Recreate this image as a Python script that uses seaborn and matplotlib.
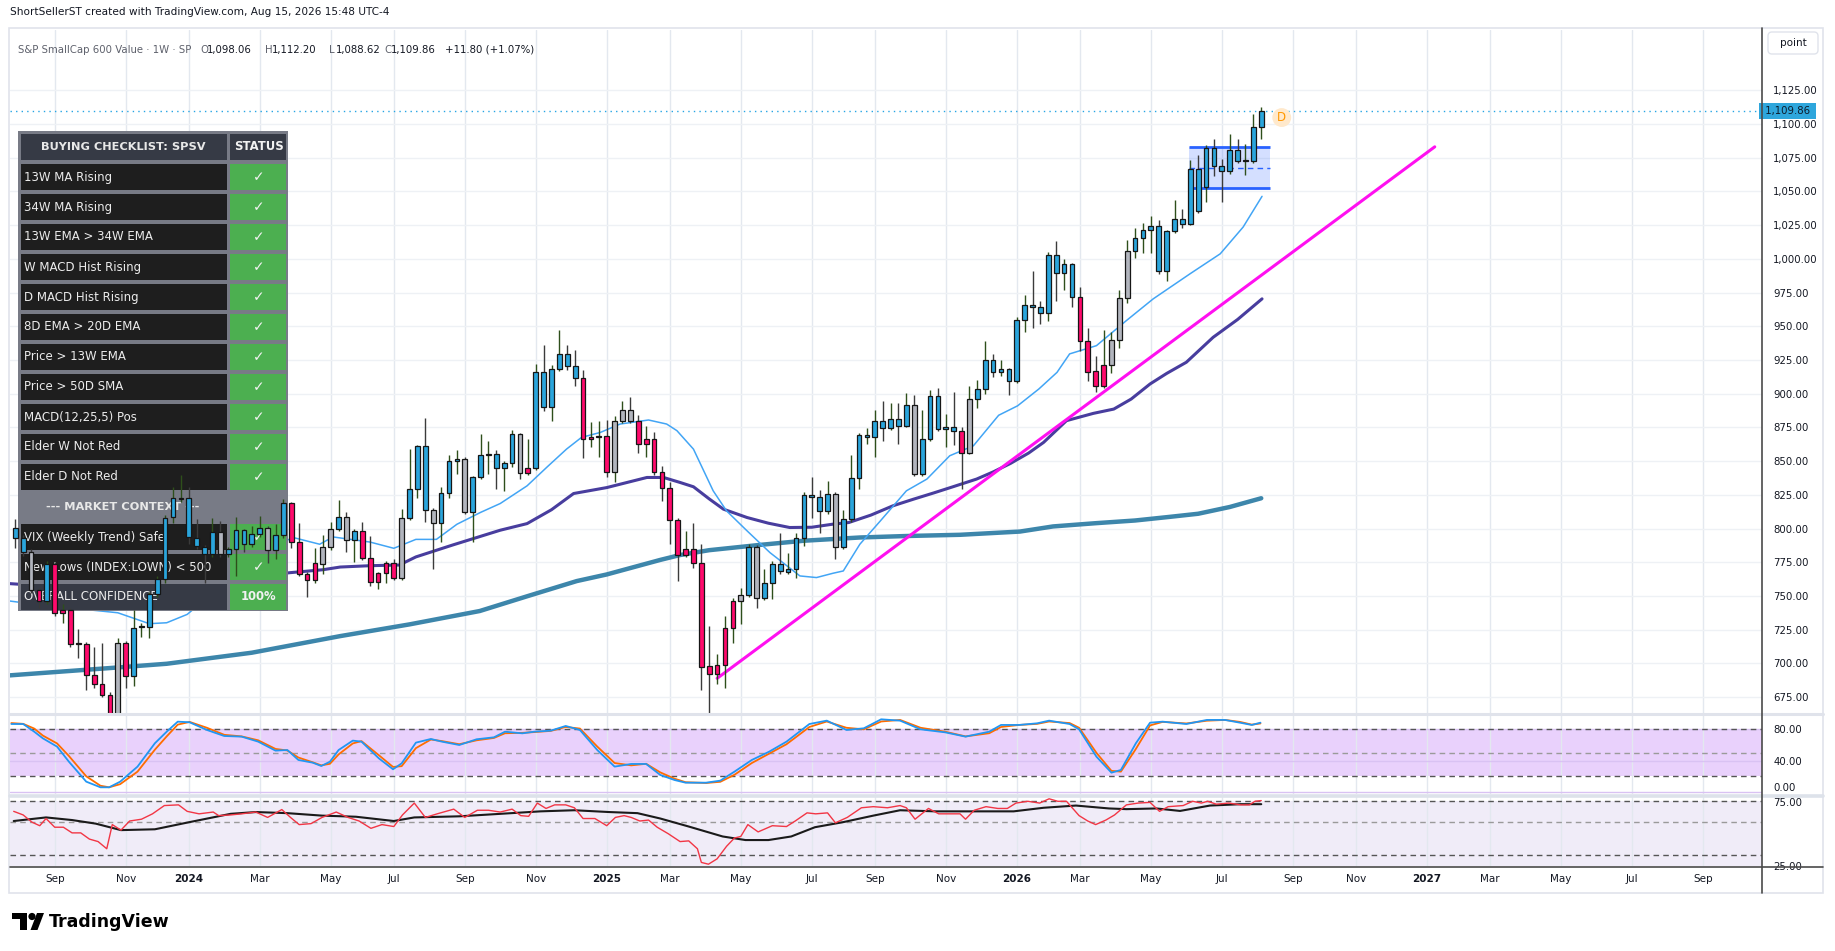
import numpy as np
import pandas as pd
import seaborn as sns
import matplotlib.pyplot as plt
import matplotlib.transforms as mtransforms
from matplotlib.patches import Rectangle, FancyBboxPatch, Circle, Polygon
from matplotlib.ticker import FuncFormatter

W, H = 1835, 951
ANCHOR = pd.Timestamp("2025-01-06")   # week offset 0
FIRST_BAR = "2023-07-31"

# ---- weekly candles (S&P SmallCap 600 Value, 1W) ----
impulse = ("bbgrbrrrrr" "rrrgrbbbbb" "bbbbbbgbbb" "bbgbbrrrrg" "gbgbrrrrrg"
           "bbbgbbbgbb" "bbbbgrbbbb" "bbrrrrgggr" "rrrrrrrrrr" "rrgbgbbbbb"
           "bbbbgbbbbb" "bbbbgbbbbb" "rgbbbbbbbb" "bbbbbrrrrg" "ggbbbbbbbb"
           "bbbbbbbbb")
opens = [800.2, 792.8, 782.9, 754.2, 746.3, 773.5, 737.4, 739.4, 714.8, 714.8,
         691.8, 684.9, 677.0, 660.0, 715.4, 690.6, 726.8, 727.0, 751.2, 762.4,
         808.7, 822.2, 822.5, 793.3, 786.4, 781.0, 797.8, 781.0, 784.7, 798.8,
         788.4, 796.3, 800.2, 784.0, 795.0, 818.8, 790.1, 766.6, 761.6, 774.0,
         786.0, 799.5, 808.9, 791.3, 798.0, 778.0, 760.4, 766.8, 774.8, 763.1,
         807.7, 829.2, 861.4, 813.6, 804.5, 826.7, 850.0, 851.5, 812.6, 838.4,
         854.5, 855.2, 844.8, 848.5, 870.1, 841.1, 844.8, 916.3, 889.9, 918.3,
         929.5, 920.8, 911.6, 866.1, 868.0, 868.8, 841.6, 880.0, 887.9, 880.0,
         862.6, 866.3, 841.6, 830.0, 806.2, 780.5, 784.7, 774.3, 698.0, 691.9,
         698.6, 726.5, 746.3, 750.5, 786.4, 748.3, 759.5, 774.1, 768.1, 769.8,
         792.9, 824.8, 823.6, 812.7, 825.5, 786.4, 807.0, 837.4, 868.1, 868.1,
         879.8, 874.5, 881.2, 876.3, 891.6, 840.4, 866.4, 898.3, 873.8, 875.0,
         872.1, 856.0, 896.1, 903.5, 925.0, 916.3, 918.3, 909.2, 954.7, 965.8,
         964.1, 959.7, 1002.5, 989.4, 995.8, 972.0, 938.9, 916.6, 905.4, 921.3,
         939.9, 971.0, 1005.7, 1015.3, 1021.5, 1024.5, 990.8, 1020.5, 1029.7, 1026.0,
         1066.8, 1053.2, 1082.4, 1068.8, 1064.9, 1080.9, 1072.3, 1072.8, 1098.06]
highs = [806.9, 795.0, 785.0, 756.0, 776.0, 775.0, 743.8, 741.0, 725.3, 716.0,
         712.0, 715.0, 679.0, 719.0, 717.0, 740.0, 730.0, 753.0, 764.9, 810.0,
         830.5, 840.0, 830.5, 806.9, 788.0, 807.7, 805.7, 786.0, 808.7, 800.0,
         802.0, 809.4, 802.0, 803.2, 822.0, 820.0, 804.5, 768.0, 785.4, 795.0,
         804.9, 821.0, 812.4, 800.0, 804.9, 794.3, 768.0, 776.0, 777.2, 814.4,
         858.9, 862.0, 881.9, 815.0, 830.9, 854.5, 858.2, 853.0, 839.0, 870.1,
         865.1, 858.2, 850.0, 873.0, 871.0, 866.3, 922.0, 936.4, 921.5, 947.5,
         936.4, 932.4, 917.6, 879.2, 880.0, 880.5, 883.7, 894.3, 897.8, 884.4,
         876.2, 871.8, 846.5, 834.2, 808.0, 798.3, 803.8, 788.4, 727.8, 706.7,
         735.2, 748.8, 756.2, 788.4, 788.0, 770.3, 776.0, 797.1, 782.2, 797.1,
         827.3, 838.4, 828.5, 835.4, 827.0, 813.7, 854.8, 870.6, 874.5, 887.9,
         894.4, 893.4, 893.4, 900.8, 899.3, 887.9, 902.8, 904.3, 885.0, 901.5,
         875.5, 905.9, 910.1, 938.9, 929.5, 925.0, 919.0, 956.7, 972.8, 991.3,
         968.6, 1005.4, 1012.9, 1000.0, 997.0, 979.0, 948.8, 928.2, 947.5, 945.5,
         976.5, 1014.1, 1023.0, 1026.5, 1031.4, 1029.0, 1021.5, 1043.3, 1037.1, 1073.0,
         1076.7, 1084.0, 1089.1, 1074.3, 1092.8, 1089.1, 1084.9, 1107.2, 1112.20]
lows = [785.4, 780.0, 752.0, 741.0, 744.0, 735.0, 730.2, 712.0, 704.2, 680.7,
        682.0, 675.0, 650.0, 655.0, 682.0, 683.0, 720.0, 719.0, 749.0, 760.0,
        804.5, 820.0, 788.4, 785.0, 759.9, 779.0, 779.0, 779.0, 764.9, 782.9,
        786.0, 794.0, 774.8, 777.2, 793.0, 785.9, 765.0, 749.3, 760.0, 766.1,
        784.0, 798.0, 782.9, 775.5, 776.5, 757.2, 755.0, 759.9, 761.6, 761.6,
        806.0, 823.0, 805.2, 769.8, 790.3, 823.0, 840.4, 811.0, 790.3, 837.0,
        840.8, 829.2, 827.5, 845.3, 837.1, 840.0, 843.3, 887.4, 879.5, 917.0,
        917.6, 906.0, 852.0, 860.6, 852.7, 837.9, 834.9, 878.0, 878.0, 855.7,
        852.7, 840.0, 820.1, 788.9, 761.2, 779.0, 771.1, 680.0, 662.2, 684.5,
        681.5, 715.4, 729.0, 749.0, 740.9, 747.0, 747.6, 766.6, 766.6, 763.2,
        787.2, 807.7, 797.1, 811.0, 777.3, 785.0, 805.0, 829.3, 862.7, 853.3,
        864.6, 873.0, 862.7, 875.0, 839.0, 839.0, 865.0, 872.0, 860.2, 862.2,
        829.3, 855.0, 889.4, 899.8, 912.1, 912.9, 899.3, 908.0, 945.5, 948.8,
        951.7, 954.2, 968.6, 977.0, 964.6, 931.4, 909.2, 901.0, 904.0, 915.1,
        933.7, 967.1, 1000.5, 1004.2, 1004.2, 989.0, 983.4, 1019.0, 1023.0, 1025.0,
        1034.0, 1042.1, 1061.1, 1042.1, 1063.0, 1071.0, 1061.9, 1071.0, 1088.62]
closes = [792.8, 783.0, 754.5, 746.3, 773.5, 737.1, 739.4, 714.1, 714.4, 691.8,
          685.1, 677.0, 658.0, 715.4, 690.6, 726.5, 727.4, 751.2, 762.4, 808.2,
          822.5, 822.8, 793.8, 787.1, 781.0, 797.8, 781.0, 784.7, 798.8, 788.4,
          796.3, 800.2, 784.0, 795.0, 818.8, 790.1, 766.6, 761.6, 774.3, 786.4,
          799.5, 808.9, 791.3, 798.0, 778.0, 760.4, 766.8, 774.8, 763.1, 807.7,
          829.2, 861.4, 813.6, 804.5, 826.7, 850.0, 851.5, 812.6, 838.4, 854.5,
          855.0, 844.8, 848.8, 870.1, 841.1, 844.8, 916.3, 889.9, 918.3, 929.5,
          920.8, 911.6, 866.3, 867.6, 868.8, 841.6, 880.0, 887.9, 880.0, 862.6,
          866.3, 841.6, 830.0, 806.2, 780.5, 784.7, 774.3, 697.6, 691.9, 698.6,
          726.5, 746.3, 750.5, 786.4, 748.3, 759.5, 774.1, 768.6, 769.8, 792.9,
          824.8, 823.3, 812.7, 825.5, 786.4, 807.0, 837.4, 869.4, 869.6, 879.5,
          874.5, 881.2, 875.8, 891.6, 840.4, 866.4, 898.3, 873.8, 875.0, 872.1,
          856.0, 896.1, 903.5, 925.0, 915.8, 918.3, 909.2, 954.7, 965.8, 964.1,
          959.7, 1002.5, 989.4, 995.8, 971.5, 938.9, 915.8, 905.4, 921.3, 939.9,
          971.0, 1005.7, 1015.3, 1021.5, 1024.5, 990.8, 1020.5, 1029.7, 1026.0, 1066.8,
          1035.4, 1082.4, 1068.6, 1064.9, 1080.9, 1072.3, 1072.8, 1098.06, 1109.86]

# ---- moving averages (week offset, value) ----
fast_wk = [-75.7, -70, -66, -62, -58, -55.8, -53.2, -50, -46, -43, -39.7, -36.4, -34.7, -30,
           -27, -24.2, -21.6, -19, -16, -13.5, -10.1, -7.5, -5.1, -3.2, -0.8, 1.7, 5.3, 7.6,
           8.9, 11, 13.5, 15.2, 17.8, 20.7, 24.5, 26.6, 28.7, 30, 32.1, 34.7, 38, 40.6, 43.5,
           46.5, 49.7, 52.1, 54.8, 57.1, 58.7, 62.1, 65.9, 69.3, 74, 77.8, 80.7, 83.1]
fast_ma = [746.3, 742, 740, 737.6, 729.5, 730.2, 736.4, 752, 772, 786, 793.3, 788.4, 793.8, 790,
           785.4, 792, 792, 803.2, 812, 818.6, 831.7, 846, 858.9, 867.6, 871.3, 877.5, 880.5,
           877.5, 872.6, 858.9, 828, 813.1, 798.3, 782.2, 764.9, 763.7, 766.9, 768.6, 788.4,
           805.7, 828, 836.7, 854, 861.4, 884, 891, 903.5, 915.8, 929.5, 935.6, 954.2, 970.3,
           989, 1003.7, 1023.5, 1046.3]
mid_wk = [-75.7, -70, -65, -60, -55, -50, -45, -40.2, -36, -33.8, -30, -26.3, -24.2, -19.5,
          -13.5, -10.1, -7, -4.2, 0, 5.1, 7.2, 9.3, 11, 13, 14.8, 17.8, 20.5, 23.2, 26, 28.7,
          30.7, 33.5, 36.3, 38.9, 41.5, 43.9, 46.9, 49, 51.2, 53.5, 55.4, 58.3, 61.7, 64.3,
          66.5, 68.9, 71, 73.5, 76.9, 80, 83.1]
mid_ma = [759.2, 757, 755, 755, 757, 760, 764, 767.3, 769.5, 771.5, 772.5, 773, 779, 787.9,
          798.8, 803.7, 814, 826, 830.4, 837.9, 837.9, 834.2, 831, 822, 814.4, 808.2, 804,
          800.8, 801, 803.3, 804.5, 810, 816.9, 821.8, 826.5, 831, 836.7, 842, 848.3, 856,
          863.9, 880, 885.4, 888.6, 896, 907.2, 915, 923.3, 941.8, 955, 970.3]
slow_wk = [-75.7, -62.6, -55.8, -45, -33.8, -25, -16.1, -10, -3.8, 0, 6.8, 9.3, 13, 19.4, 25,
           32.1, 38, 44.8, 52.4, 56.6, 62, 67, 71.4, 75, 79, 83]
slow_ma = [691.2, 696.8, 699.8, 708, 720.3, 729, 738.9, 750, 761.1, 766, 776.8, 780.4, 784,
           787.9, 791, 793.4, 794.5, 795.4, 797.8, 801.6, 804, 806, 808.7, 811, 816, 822.5]

# ---- trendline, consolidation box, current price ----
trend_wk, trend_px = [14, 105], [689, 1083]
box_wk, box_px, box_mid = [73.9, 84.1], [1052.5, 1082.9], 1067.6
d_mark = (85.6, 1104.7)

# ---- stochastic RSI ----
stoch_wk = [-75.5, -74, -72.6, -71.5, -69.7, -68.2, -66, -64.2, -63.1, -61.7, -59.5, -57.3,
            -55.8, -54.4, -52.9, -50.7, -48.5, -46.3, -44.2, -42, -40.5, -39.1, -37.3, -36.2,
            -35.1, -34, -32.2, -31.1, -28.9, -27.1, -26, -24.2, -22.3, -20.9, -18.7, -16.5,
            -14.3, -12.9, -10.7, -9.2, -7.1, -5.2, -3.4, -1.2, 1, 3.1, 5, 6.8, 8.6, 10, 12.6,
            14.4, 16.2, 18.4, 20.6, 22.8, 25.7, 27.9, 30.4, 32.6, 34.8, 37.2, 39.8, 42.9, 45.5,
            48.5, 50, 52.3, 54.6, 56.1, 58.7, 59.9, 62.1, 64, 65.2, 67.1, 68.9, 70.5, 73.5,
            76.1, 78.4, 80.3, 81.8, 82.9]
stoch_k = [86.8, 86.8, 77, 68.5, 57.9, 38.7, 13.2, 6, 6, 13.2, 32.4, 62.2, 77, 89.8, 89, 79.2,
           71.5, 70.7, 64.3, 52.8, 53.6, 40.9, 37.5, 33.2, 38.7, 53.6, 65.6, 64.3, 43, 29, 36.6,
           63, 67.7, 64.3, 60, 67.3, 69.8, 77, 74.9, 77, 78.3, 84.3, 79.2, 53.6, 32.4, 35.8,
           35.8, 21.7, 15.3, 11.9, 11.9, 14.5, 26, 40.9, 51.5, 64.3, 86.8, 91.1, 79.2, 81.3,
           92.8, 91.1, 80, 76.2, 70.7, 77, 85.6, 85.6, 87.7, 91.1, 86.8, 80, 45.1, 24.7, 28.1,
           62.2, 88.5, 89.8, 86.8, 92, 92, 88.5, 85.6, 88.5]
stoch_d = [88, 87, 81, 72, 62, 46, 20, 8, 6, 10, 26, 54, 71, 86, 89.5, 82, 73, 71, 66, 55, 53,
           44, 38, 34, 36, 48, 62, 65, 47, 32, 33, 56, 67, 65, 61, 66, 69, 75, 75.5, 76.5, 78,
           83, 81, 58, 37, 34, 36, 25, 17, 12.5, 11.5, 13, 22, 37, 49, 61, 83, 90, 82, 80, 90,
           92, 82, 77, 71, 75, 83, 85.6, 87, 90, 88, 82, 50, 27, 26, 55, 85, 89.5, 87.5, 91,
           92, 89.5, 86, 87.5]

# ---- RSI and its average ----
rsi_wk = [-75.2, -74, -72.9, -71.9, -71.1, -70, -68.9, -67.8, -66.7, -65.6, -64.5, -63.4,
          -62.7, -61.6, -60.5, -59, -57.6, -56.1, -54.3, -53.2, -51.7, -49.9, -49.2, -47.7,
          -46.3, -44.5, -43, -41.2, -40.1, -39, -37.5, -36.1, -34.3, -32.8, -31.4, -29.9,
          -28.5, -27, -25.9, -24.4, -23, -21.5, -19.4, -18, -16.4, -15, -13.5, -12, -10.9,
          -9.9, -8.8, -7.7, -6.6, -5.2, -4.1, -3, -1.5, 0, 1.1, 2.2, 3.1, 4.2, 5.3, 6.4, 7.8,
          9.3, 10.4, 11.5, 12, 12.9, 14, 15.2, 16.2, 17, 17.9, 19.2, 21, 22.8, 23.9, 25.4,
          26.5, 28, 29, 30.5, 32.3, 33.8, 35.6, 37.2, 38, 39.1, 40.8, 42.1, 44.8, 45.5, 46.6,
          48.1, 49.6, 50.8, 51.9, 53.4, 54.9, 56.1, 57.2, 58.3, 59.9, 61, 62, 63.3, 64.4,
          65.9, 67.4, 68.9, 70.1, 71.2, 73.1, 74.3, 75.4, 76.2, 77.3, 78.9, 80.4, 81.5, 82.2,
          83]
rsi_val = [64.6, 62, 56.8, 54.2, 59.4, 53.1, 53.1, 49, 49, 44.5, 42.7, 37.5, 55, 51, 57.6,
           58.9, 62.8, 68.8, 69.3, 64.6, 62.8, 64.1, 61.5, 62, 62.8, 64.1, 60.2, 65.9, 60.2,
           55, 55.7, 60.2, 64.1, 60.2, 57.6, 52.3, 55, 53.6, 62, 70.6, 60.2, 62.8, 66.2, 60.2,
           65.4, 65.4, 64.1, 66.2, 61.5, 61, 70.6, 66.7, 69.3, 69.3, 67.2, 59.4, 59.4, 54.2,
           60.2, 61.5, 60.2, 57.6, 58.3, 53.1, 48.4, 42.7, 43.2, 37.5, 27.6, 26.3, 30.2, 39.3,
           45.3, 46.4, 55, 49.7, 54.2, 53.6, 57.6, 63.5, 62.8, 63.5, 56.3, 60.2, 67.2, 68,
           67.2, 68.8, 67.2, 58.9, 66.7, 62.8, 62.8, 58.9, 65.4, 68, 66.7, 66.7, 70.6, 71.9,
           70.6, 73.7, 71.9, 71.9, 61.5, 57.6, 55, 58.3, 62, 69.3, 70.6, 71.1, 64.6, 68, 68.8,
           71.9, 70.6, 71.9, 69.8, 70.6, 69.3, 69.3, 71.9, 72.4]
rsi_ma_wk = [-75.2, -71.1, -67.8, -64.8, -61.6, -57.3, -52.9, -47.7, -44.5, -40.5, -36.1,
             -31.8, -27, -24.4, -18.7, -13.5, -8.4, -4.1, 0.3, 3.9, 6.8, 10.4, 14.7, 17.6,
             20.5, 23.4, 26.4, 30, 33.8, 37.2, 41.7, 46.3, 51.6, 55.4, 59.5, 63.7, 65.9, 69.7,
             72.7, 76.5, 80.4, 83]
rsi_ma = [57.6, 60.2, 58.3, 55.7, 51, 51.6, 56.8, 62.8, 64.1, 63.3, 61.5, 60.7, 57.6, 60.2,
          61, 62.8, 64.6, 65.4, 64.1, 63.3, 59.4, 53.6, 46.4, 43.8, 43.8, 46.4, 53.1, 56.8,
          61.5, 65.4, 64.6, 64.6, 64.6, 67.2, 68.8, 66.7, 66.2, 66.7, 64.9, 68.8, 69.8, 69.8]

# ---- checklist table ----
checklist = ["13W MA Rising", "34W MA Rising", "13W EMA > 34W EMA", "W MACD Hist Rising",
             "D MACD Hist Rising", "8D EMA > 20D EMA", "Price > 13W EMA", "Price > 50D SMA",
             "MACD(12,25,5) Pos", "Elder W Not Red", "Elder D Not Red"]
context = ["VIX (Weekly Trend) Safe", "New Lows (INDEX:LOWN) < 500"]
confidence = "100%"

sns.set_theme(style="white")
plt.rcParams["font.family"] = ["DejaVu Sans"]
INK = "#131722"

fig = plt.figure(figsize=(W / 100, H / 100), dpi=100)
px = mtransforms.Affine2D().scale(1 / W, -1 / H).translate(0, 1) + fig.transFigure


def panel(y0, y1):
    return fig.add_axes([10 / W, 1 - y1 / H, 1752 / W, (y1 - y0) / H])


ax = panel(30, 713)
ax2 = panel(715, 794)
ax3 = panel(797, 866)

dates = pd.date_range(FIRST_BAR, periods=len(opens), freq="7D")
wk = ((dates - ANCHOR).days / 7).to_numpy()

tick_x, tick_lab = [], []
for m in pd.date_range("2023-09-01", "2027-09-01", freq="2MS"):
    monday = m + pd.Timedelta(days=(7 - m.weekday()) % 7)
    tick_x.append((monday - ANCHOR).days / 7)
    tick_lab.append(str(m.year) if m.month == 1 else m.strftime("%b"))

for a in (ax, ax2, ax3):
    a.set_xlim(-75.67, 146.5)
    a.set_axisbelow(True)
    a.set_xticks(tick_x)
    a.grid(True, axis="x", color="#e3e8ef", lw=1)
    for s in a.spines.values():
        s.set_visible(False)
    a.yaxis.tick_right()
    a.tick_params(axis="y", length=0, pad=8, labelsize=7.3, labelcolor=INK)
    a.tick_params(axis="x", length=0)

# ---- main price panel ----
ax.set_ylim(663.3, 1169.6)
ax.set_yticks(np.arange(675, 1126, 25))
ax.yaxis.set_major_formatter(FuncFormatter(lambda v, p: f"{v:,.2f}"))
ax.grid(True, axis="y", color="#eef1f5", lw=1)
ax.tick_params(axis="x", labelbottom=False)

sns.lineplot(x=slow_wk, y=slow_ma, ax=ax, color="#3d86ab", lw=3.2, estimator=None, sort=False, zorder=2)
sns.lineplot(x=mid_wk, y=mid_ma, ax=ax, color="#483d9e", lw=2.2, estimator=None, sort=False, zorder=2)
sns.lineplot(x=fast_wk, y=fast_ma, ax=ax, color="#42a5f5", lw=1.1, estimator=None, sort=False, zorder=2)
ax.plot(trend_wk, trend_px, color="#ff10f0", lw=2.2, zorder=2.2)

# table (drawn above the averages, below the candles)
T0X, T1X, TSX, T0Y, RH = 18, 288, 227.5, 131, 30
rows = ([("BUYING CHECKLIST: SPSV", "STATUS", "head")] + [(s, "\u2713", "ok") for s in checklist]
        + [("--- MARKET CONTEXT ---", "", "ctx")] + [(s, "\u2713", "ok") for s in context]
        + [("OVERALL CONFIDENCE", confidence, "total")])
ax.add_patch(Rectangle((T0X, T0Y), T1X - T0X, RH * len(rows), transform=px,
                       fc="#787b86", ec="none", zorder=2.5, clip_on=False))
left_bg = {"head": "#363a45", "ok": "#1e1e1e", "ctx": "#787b86", "total": "#363a45"}
right_bg = {"head": "#363a45", "ok": "#4caf50", "ctx": "#787b86", "total": "#4caf50"}
for i, (lt, rt, kind) in enumerate(rows):
    y = T0Y + i * RH
    ax.add_patch(Rectangle((T0X + 2.5, y + 2.5), TSX - T0X - 3.5, RH - 3.5, transform=px,
                           fc=left_bg[kind], ec="none", zorder=2.55, clip_on=False))
    ax.add_patch(Rectangle((TSX + 2, y + 2.5), T1X - TSX - 4.5, RH - 3.5, transform=px,
                           fc=right_bg[kind], ec="none", zorder=2.55, clip_on=False))
    yc = y + RH / 2 + 1
    if kind in ("head", "ctx"):
        ax.text((T0X + TSX) / 2, yc, lt, transform=px, ha="center", va="center", fontsize=8.2,
                fontweight="bold", color="#e8e8e8", zorder=2.6)
    else:
        ax.text(T0X + 6, yc, lt, transform=px, ha="left", va="center", fontsize=8.5,
                color="#ececec", zorder=2.6)
    if rt:
        ax.text((TSX + T1X) / 2 + 1, yc, rt, transform=px, ha="center", va="center",
                fontsize=10 if rt == "\u2713" else 8.4,
                fontweight="bold", color="#f2f2f2", zorder=2.6)

# consolidation box
ax.add_patch(Rectangle((box_wk[0], box_px[0]), box_wk[1] - box_wk[0], box_px[1] - box_px[0],
                       fc="#2962ff", alpha=0.2, ec="none", zorder=2.7))
ax.hlines(box_px, box_wk[0], box_wk[1], color="#2962ff", lw=2, zorder=2.8)
ax.hlines(box_mid, box_wk[0], box_wk[1], color="#2962ff", lw=1, ls=(0, (4, 3)), zorder=2.8)

# candles
o, c = np.array(opens), np.array(closes)
body_lo = np.minimum(o, c)
body_h = np.maximum(np.abs(c - o), 0.7)
fills = [{"b": "#2aa5dc", "r": "#ff0a6c", "g": "#b2b5be"}[s] for s in impulse]
wick_c = np.where(c >= o, "#2e4f1b", "#3b3b3b")
ax.vlines(wk, lows, highs, colors=wick_c, lw=1, zorder=3.1)
ax.bar(wk, body_h, bottom=body_lo, width=0.6, color=fills, edgecolor="#161616",
       linewidth=0.9, zorder=3.2)

last = closes[-1]
ax.axhline(last, color="#26a5e4", lw=1, ls=(0, (1, 3)), zorder=2.9)
ax.text(1.0, last, f" {last:,.2f} ", transform=ax.get_yaxis_transform(), ha="left", va="center",
        fontsize=7.3, color="#0d1b2a", zorder=10, clip_on=False,
        bbox=dict(boxstyle="square,pad=0.3", fc="#2ea6dc", ec="none"))
ax.text(*d_mark, "D", ha="center", va="center", fontsize=8.5, color="#ff9800", zorder=4,
        bbox=dict(boxstyle="circle,pad=0.25", fc="#ffe9cc", ec="none"))

# ---- stochastic RSI panel ----
ax2.set_ylim(-2.55, 98.3)
ax2.set_yticks([0, 40, 80])
ax2.set_yticklabels(["", "40.00", "80.00"])
ax2.grid(True, axis="y", color="#d9c2f3", lw=1)
ax2.tick_params(axis="x", labelbottom=False)
ax2.axhspan(20, 80, color="#e9d1fc", zorder=0.2, lw=0)
ax2.axhline(80, color="#555", lw=1, ls=(0, (4, 3)), zorder=1)
ax2.axhline(50, color="#9a9a9a", lw=1, ls=(0, (4, 3)), zorder=1)
ax2.axhline(20, color="#555", lw=1, ls=(0, (4, 3)), zorder=1)
sns.lineplot(x=stoch_wk, y=stoch_d, ax=ax2, color="#ff6d00", lw=1.3, estimator=None, sort=False)
sns.lineplot(x=stoch_wk, y=stoch_k, ax=ax2, color="#2196f3", lw=1.3, estimator=None, sort=False)

# ---- RSI panel ----
ax3.set_ylim(25, 75)
ax3.set_yticks([25, 75])
ax3.set_yticklabels(["25.00", ""])
ax3.axhspan(25, 72, color="#f0ecf8", zorder=0.2, lw=0)
ax3.axhline(72, color="#555", lw=1, ls=(0, (4, 3)), zorder=1)
ax3.axhline(57, color="#9a9a9a", lw=1, ls=(0, (4, 3)), zorder=1)
ax3.axhline(33, color="#555", lw=1, ls=(0, (4, 3)), zorder=1)
sns.lineplot(x=rsi_ma_wk, y=rsi_ma, ax=ax3, color="#1a1a1a", lw=1.5, estimator=None, sort=False)
sns.lineplot(x=rsi_wk, y=rsi_val, ax=ax3, color="#f23645", lw=1, estimator=None, sort=False)
ax3.set_xticklabels(tick_lab)
ax3.tick_params(axis="x", pad=6, labelsize=7.5, labelcolor=INK)
for t in ax3.get_xticklabels():
    if t.get_text().isdigit():
        t.set_fontweight("bold")
for a in (ax, ax2, ax3):
    a.set_xlabel("")
    a.set_ylabel("")

# ---- frame, headers, logo ----
ov = fig.add_axes([0, 0, 1, 1])
ov.set_xlim(0, W)
ov.set_ylim(H, 0)
ov.axis("off")
ov.patch.set_visible(False)
ov.add_patch(Rectangle((9, 28), 1814, 865, fc="none", ec="#e0e3eb", lw=1.2))
ov.plot([10, 1823], [714, 714], color="#e0e3eb", lw=2.2)
ov.plot([10, 1823], [795.5, 795.5], color="#dde2ea", lw=2.6)
ov.plot([10, 1823], [867, 867], color="#4a4a4a", lw=1.2)
ov.plot([1762, 1762], [28, 893], color="#4a4a4a", lw=1.2)
ov.add_patch(FancyBboxPatch((1768, 32), 50, 22, boxstyle="round,pad=0,rounding_size=4",
                            fc="white", ec="#e0e3eb", lw=1))
ov.text(1793, 43.5, "point", ha="center", va="center", fontsize=7.5, color=INK)
# bottom labels of the two lower panes, kept apart so they do not collide
ov.text(1773, 788, "0.00", ha="left", va="center", fontsize=7.3, color=INK)
ov.text(1773, 803, "75.00", ha="left", va="center", fontsize=7.3, color=INK)

ov.text(10, 12, "ShortSellerST created with TradingView.com, Aug 15, 2026 15:48 UTC-4",
        ha="left", va="center", fontsize=7.6, color=INK)
ov.text(18, 50, "S&P SmallCap 600 Value \u00b7 1W \u00b7 SP", ha="left", va="center",
        fontsize=7.3, color="#5d606b")
for x0, lab, val in [(200, "O", opens[-1]), (265, "H", highs[-1]), (329, "L", lows[-1]),
                     (384, "C", closes[-1])]:
    ov.text(x0, 50, lab, ha="left", va="center", fontsize=7.3, color="#5d606b")
    ov.text(x0 + 7, 50, f"{val:,.2f}", ha="left", va="center", fontsize=7.3, color=INK)
chg = closes[-1] - closes[-2]
ov.text(445, 50, f"{chg:+.2f} ({chg / closes[-2] * 100:+.2f}%)", ha="left", va="center",
        fontsize=7.3, color=INK)

# TradingView logo
ov.add_patch(Rectangle((11.5, 913), 15, 6, fc="black", ec="none"))
ov.add_patch(Rectangle((19.5, 913), 7, 17, fc="black", ec="none"))
ov.add_patch(Circle((32, 916.5), 3.6, fc="black", ec="none"))
ov.add_patch(Polygon([(37, 913), (44, 913), (37.5, 930), (30.5, 930)], fc="black", ec="none"))
ov.text(49, 922, "TradingView", ha="left", va="center", fontsize=12.5, fontweight="bold",
        color="black")

fig.savefig("out.png", dpi=100, facecolor="white")
